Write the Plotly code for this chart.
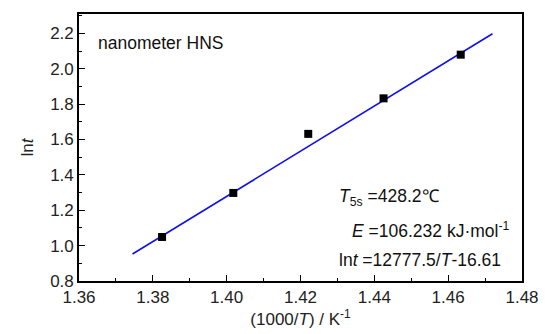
import numpy as np
import plotly.graph_objects as go

# Measured data: reciprocal temperature (1000/T, K^-1) and ln t
inv_T = [1.3825, 1.4018, 1.4221, 1.4425, 1.4634]
ln_t = [1.049, 1.298, 1.632, 1.833, 2.080]

# Linear fit: ln t = 12777.5/T - 16.61  ->  ln t = 12.7775*(1000/T) - 16.61
slope = 12777.5
intercept = -16.61
fit_x = [1.3745, 1.4720]
fit_y = [slope / 1000 * x + intercept for x in fit_x]

font = "Liberation Sans, Arial, sans-serif"

fig = go.Figure()
fig.add_trace(go.Scatter(x=fit_x, y=fit_y, mode="lines",
                         line=dict(color="#1010ee", width=1.6), showlegend=False))
fig.add_trace(go.Scatter(x=inv_T, y=ln_t, mode="markers",
                         marker=dict(symbol="square", size=8, color="black"),
                         showlegend=False))

axis_common = dict(
    showline=True, linecolor="black", linewidth=1.6, mirror=True,
    ticks="inside", ticklen=6, tickwidth=1.2, tickcolor="black",
    showgrid=False, zeroline=False,
    tickfont=dict(family=font, size=17, color="#222"),
)

fig.update_xaxes(range=[1.36, 1.48], dtick=0.02, tickformat=".2f",
                 minor=dict(ticks="inside", ticklen=3, dtick=0.01, tickcolor="black"),
                 title=dict(text="(1000/<i>T</i>) / K<sup>-1</sup>", standoff=3,
                            font=dict(family=font, size=17, color="#222")),
                 **axis_common)
fig.update_yaxes(range=[0.8, 2.31], tick0=0.8, dtick=0.2, tickformat=".1f",
                 minor=dict(ticks="inside", ticklen=3, dtick=0.1, tickcolor="black"),
                 title=dict(text="ln<i>t</i>", standoff=12,
                            font=dict(family=font, size=17, color="#222")),
                 **axis_common)

ann_font = dict(family=font, size=17.5, color="#111")
fig.add_annotation(x=0.039, y=0.89, xref="paper", yref="paper", xanchor="left",
                   yanchor="middle", text="nanometer HNS", showarrow=False, font=ann_font)
fig.add_annotation(x=0.582, y=0.311, xref="paper", yref="paper", xanchor="left",
                   yanchor="middle", text="<i>T</i><sub>5s</sub> =428.2\u2103",
                   showarrow=False, font=ann_font)
fig.add_annotation(x=0.612, y=0.19, xref="paper", yref="paper", xanchor="left",
                   yanchor="middle",
                   text="<i>E</i> =106.232 kJ\u00b7mol<sup>-1</sup>",
                   showarrow=False, font=ann_font)
fig.add_annotation(x=0.582, y=0.077, xref="paper", yref="paper", xanchor="left",
                   yanchor="middle", text="ln<i>t</i> =12777.5/<i>T</i>-16.61",
                   showarrow=False, font=ann_font)

fig.update_layout(
    width=551, height=334,
    margin=dict(l=79, r=18, t=12, b=49),
    paper_bgcolor="white", plot_bgcolor="white",
)

fig.write_html("out.html")
